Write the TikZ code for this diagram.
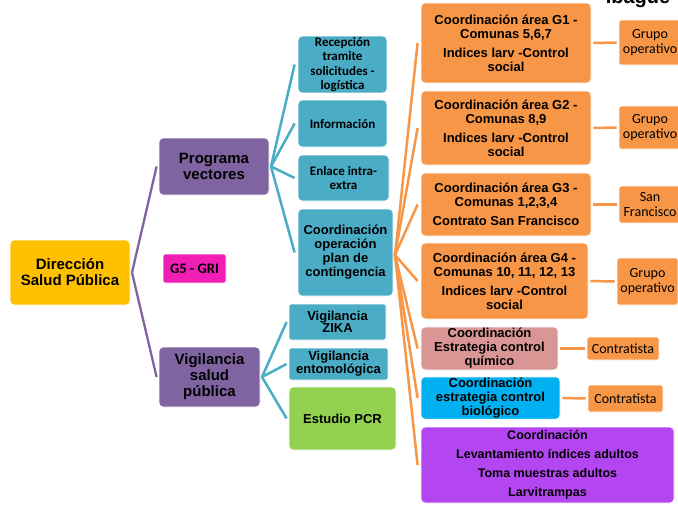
\documentclass[tikz,border=0pt]{standalone}
\usepackage{fontspec}
\setmainfont{Liberation Sans}
\newfontfamily\calf{Carlito}
\definecolor{cyel}{HTML}{FFC000}
\definecolor{cpur}{HTML}{8064A2}
\definecolor{cblu}{HTML}{4BACC6}
\definecolor{cora}{HTML}{F79646}
\definecolor{cgrn}{HTML}{92D050}
\definecolor{cmag}{HTML}{F01EB4}
\definecolor{cpnk}{HTML}{DA9694}
\definecolor{ccya}{HTML}{00B0F0}
\definecolor{cvio}{HTML}{B446F2}
\tikzset{
  box/.style={draw=white, line width=0.8pt, rounded corners=4pt, inner sep=1pt, align=center, text=black},
  bigtxt/.style={font=\fontsize{15}{16}\selectfont\bfseries},
  midtxt/.style={font=\fontsize{13}{14}\selectfont\bfseries},
  caltxt/.style={font=\calf\fontsize{13}{14.5}\selectfont\bfseries},
  smltxt/.style={font=\calf\fontsize{14}{14.5}\selectfont},
  pline/.style={draw=cpur, line width=2.3pt},
  bline/.style={draw=cblu, line width=2.5pt},
  oline/.style={draw=cora, line width=2.5pt},
}
\begin{document}
\begin{tikzpicture}[x=1pt,y=-1pt]
\useasboundingbox (0,0) rectangle (678,504);
\clip (0,0) rectangle (678,504);
\fill[white] (0,0) rectangle (678,504);
% Title (cut off at top, as in the reference)
\node[anchor=base, font=\fontsize{20}{20}\selectfont\bfseries, inner sep=0] (title) at (638,3) {Ibagué};
% main nodes
\node[box, bigtxt, fill=cyel, minimum width=120, minimum height=65] (dir) at (70,272.5) {Dirección\\Salud Pública};
\node[box, bigtxt, fill=cpur, minimum width=110, minimum height=57] (pv) at (214,166.5) {Programa\\vectores};
\node[box, bigtxt, fill=cpur, minimum width=101, minimum height=60] (vsp) at (209.5,377) {Vigilancia\\salud\\pública};
\node[box, font=\calf\fontsize{14.5}{14.5}\selectfont\bfseries, fill=cmag, rounded corners=1.5pt, minimum width=63, minimum height=29] (g5) at (194.5,268.5) {G5 - GRI};
% blue
\node[box, caltxt, fill=cblu, minimum width=89, minimum height=55] (rec) at (342.5,64.5) {Recepción\\tramite\\solicitudes -\\logística};
\node[box, caltxt, fill=cblu, minimum width=89, minimum height=47] (inf) at (342.5,123.5) {Información};
\node[box, caltxt, fill=cblu, minimum width=91, minimum height=46] (enl) at (343.5,178) {Enlace intra-\\extra};
\node[box, midtxt, fill=cblu, minimum width=95, minimum height=87] (cop) at (345.5,252.5) {Coordinación\\operación\\plan de\\contingencia};
\node[box, midtxt, fill=cblu, font=\fontsize{13}{12.5}\selectfont\bfseries, rounded corners=2pt, minimum width=97, minimum height=36] (zika) at (337.5,322) {Vigilancia\\ZIKA};
\node[box, midtxt, fill=cblu, font=\fontsize{13}{13}\selectfont\bfseries, rounded corners=2pt, minimum width=99, minimum height=32] (ento) at (338.5,364) {Vigilancia\\entomológica};
\node[box, midtxt, fill=cgrn, minimum width=107, minimum height=63] (pcr) at (342.5,418.5) {Estudio PCR};
% orange
\node[box, midtxt, fill=cora, minimum width=170, minimum height=80] (g1) at (506,43) {Coordinación área G1 -\\Comunas 5,6,7\\[5pt]Indices larv -Control\\social};
\node[box, midtxt, fill=cora, minimum width=170, minimum height=74] (g2) at (506,128) {Coordinación área G2 -\\Comunas 8,9\\[5pt]Indices larv -Control\\social};
\node[box, midtxt, fill=cora, minimum width=170, minimum height=63] (g3) at (506,204.5) {Coordinación área G3 -\\Comunas 1,2,3,4\\[5pt]Contrato San Francisco};
\node[box, midtxt, fill=cora, minimum width=167, minimum height=76] (g4) at (504.5,281) {Coordinación área G4 -\\Comunas 10, 11, 12, 13\\[5pt]Indices larv -Control\\social};
\node[box, midtxt, fill=cpnk, minimum width=137, minimum height=43] (qui) at (489.5,348.5) {Coordinación\\Estrategia control\\químico};
\node[box, midtxt, fill=ccya, minimum width=139, minimum height=42] (bio) at (490.5,398) {Coordinación\\estrategia control\\biológico};
\node[box, midtxt, fill=cvio, font=\fontsize{12.5}{19}\selectfont\bfseries, minimum width=253, minimum height=76] (lev) at (547.5,465) {Coordinación\\Levantamiento índices adultos\\Toma muestras adultos\\Larvitrampas};
% right small boxes
\node[box, smltxt, fill=cora, rounded corners=2pt, minimum width=62, minimum height=45] (r1) at (650,42.5) {Grupo\\operativo};
\node[box, smltxt, fill=cora, rounded corners=2pt, minimum width=62, minimum height=43] (r2) at (650,127.5) {Grupo\\operativo};
\node[box, smltxt, fill=cora, rounded corners=2pt, minimum width=62, minimum height=37] (r3) at (650,204.5) {San\\Francisco};
\node[box, smltxt, fill=cora, rounded corners=2pt, minimum width=61, minimum height=47] (r4) at (647.5,281.5) {Grupo\\operativo};
\node[box, smltxt, fill=cora, rounded corners=1.5pt, minimum width=72, minimum height=23] (c1) at (623,348.5) {Contratista};
\node[box, smltxt, fill=cora, rounded corners=1.5pt, minimum width=75, minimum height=27] (c2) at (625.5,398.5) {Contratista};
% junction points
\coordinate (dj) at (132,272.5);
\coordinate (pj) at (271,166.5);
\coordinate (vj) at (262,377);
\coordinate (oj) at (395,255);
% connectors
\draw[pline] (dj) -- ([xshift=-2pt]pv.west);
\draw[pline] (dj) -- ([xshift=-2pt]vsp.west);
\foreach \n in {rec,inf,enl,cop} \draw[bline] (pj) -- ([xshift=-3pt]\n.west);
\foreach \n in {zika,ento,pcr} \draw[bline] (vj) -- ([xshift=-2pt]\n.west);
\foreach \n in {g1,g2,g3,g4,qui,bio,lev} \draw[oline] (oj) -- ([xshift=-3pt]\n.west);
\draw[oline, shorten <=2pt, shorten >=2pt] (g1.east) -- (r1.west);
\draw[oline, shorten <=2pt, shorten >=2pt] (g2.east) -- (r2.west);
\draw[oline, shorten <=2pt, shorten >=2pt] (g3.east) -- (r3.west);
\draw[oline, shorten <=2pt, shorten >=2pt] (g4.east) -- (r4.west);
\draw[oline, shorten <=2pt, shorten >=2pt] (qui.east) -- (c1.west);
\draw[oline, shorten <=2pt, shorten >=2pt] (bio.east) -- (c2.west);
\end{tikzpicture}
\end{document}
